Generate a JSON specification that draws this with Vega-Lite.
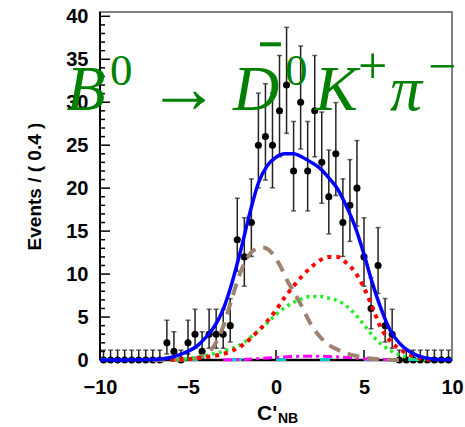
{
  "$schema": "https://vega.github.io/schema/vega-lite/v6.json",
  "width": 352,
  "height": 348,
  "autosize": "none",
  "padding": {"left": 100, "top": 12, "right": 13, "bottom": 67},
  "background": "white",
  "config": {
    "view": {"stroke": "#808080", "strokeWidth": 2},
    "axis": {"grid": false, "domain": false, "ticks": false, "labelFont": "Liberation Sans", "labelFontWeight": "bold", "labelFontSize": 20, "labelColor": "black", "labelFlush": false}
  },
  "datasets": {
    "bins": [
      {"x": -9.8, "n": 0, "lo": 0, "hi": 1.15},
      {"x": -9.4, "n": 0, "lo": 0, "hi": 1.15},
      {"x": -9.0, "n": 0, "lo": 0, "hi": 1.15},
      {"x": -8.6, "n": 0, "lo": 0, "hi": 1.15},
      {"x": -8.2, "n": 0, "lo": 0, "hi": 1.15},
      {"x": -7.8, "n": 0, "lo": 0, "hi": 1.15},
      {"x": -7.4, "n": 0, "lo": 0, "hi": 1.15},
      {"x": -7.0, "n": 0, "lo": 0, "hi": 1.15},
      {"x": -6.6, "n": 0, "lo": 0, "hi": 1.15},
      {"x": -6.2, "n": 2, "lo": 0.71, "hi": 4.63},
      {"x": -5.8, "n": 1, "lo": 0.17, "hi": 3.29},
      {"x": -5.4, "n": 0, "lo": 0, "hi": 1.15},
      {"x": -5.0, "n": 2, "lo": 0.71, "hi": 4.63},
      {"x": -4.6, "n": 3, "lo": 1.37, "hi": 5.91},
      {"x": -4.2, "n": 1, "lo": 0.17, "hi": 3.29},
      {"x": -3.8, "n": 3, "lo": 1.37, "hi": 5.91},
      {"x": -3.4, "n": 3, "lo": 1.37, "hi": 5.91},
      {"x": -3.0, "n": 3, "lo": 1.37, "hi": 5.91},
      {"x": -2.6, "n": 4, "lo": 2.09, "hi": 7.15},
      {"x": -2.2, "n": 14, "lo": 10.31, "hi": 18.83},
      {"x": -1.8, "n": 12, "lo": 8.59, "hi": 16.55},
      {"x": -1.4, "n": 16, "lo": 12.05, "hi": 21.08},
      {"x": -1.0, "n": 25, "lo": 20.04, "hi": 31.06},
      {"x": -0.6, "n": 26, "lo": 20.94, "hi": 32.16},
      {"x": -0.2, "n": 25, "lo": 20.04, "hi": 31.06},
      {"x": 0.2, "n": 29, "lo": 23.65, "hi": 35.44},
      {"x": 0.6, "n": 32, "lo": 26.38, "hi": 38.71},
      {"x": 1.0, "n": 22, "lo": 17.35, "hi": 27.76},
      {"x": 1.4, "n": 30, "lo": 24.56, "hi": 36.54},
      {"x": 1.8, "n": 22, "lo": 17.35, "hi": 27.76},
      {"x": 2.2, "n": 29, "lo": 23.65, "hi": 35.44},
      {"x": 2.6, "n": 23, "lo": 18.24, "hi": 28.86},
      {"x": 3.0, "n": 19, "lo": 14.68, "hi": 24.43},
      {"x": 3.4, "n": 24, "lo": 19.14, "hi": 29.96},
      {"x": 3.8, "n": 16, "lo": 12.05, "hi": 21.08},
      {"x": 4.2, "n": 18, "lo": 13.80, "hi": 23.32},
      {"x": 4.6, "n": 20, "lo": 15.57, "hi": 25.54},
      {"x": 5.0, "n": 12, "lo": 8.59, "hi": 16.55},
      {"x": 5.4, "n": 6, "lo": 3.63, "hi": 9.58},
      {"x": 5.8, "n": 11, "lo": 7.74, "hi": 15.41},
      {"x": 6.2, "n": 4, "lo": 2.09, "hi": 7.15},
      {"x": 6.6, "n": 3, "lo": 1.37, "hi": 5.91},
      {"x": 7.0, "n": 0, "lo": 0, "hi": 1.15},
      {"x": 7.4, "n": 0, "lo": 0, "hi": 1.15},
      {"x": 7.8, "n": 0, "lo": 0, "hi": 1.15},
      {"x": 8.2, "n": 0, "lo": 0, "hi": 1.15},
      {"x": 8.6, "n": 0, "lo": 0, "hi": 1.15},
      {"x": 9.0, "n": 0, "lo": 0, "hi": 1.15},
      {"x": 9.4, "n": 0, "lo": 0, "hi": 1.15},
      {"x": 9.8, "n": 0, "lo": 0, "hi": 1.15}
    ],
    "yminor": [
      {"v": 1}, {"v": 2}, {"v": 3}, {"v": 4}, {"v": 6}, {"v": 7}, {"v": 8}, {"v": 9},
      {"v": 11}, {"v": 12}, {"v": 13}, {"v": 14}, {"v": 16}, {"v": 17}, {"v": 18}, {"v": 19},
      {"v": 21}, {"v": 22}, {"v": 23}, {"v": 24}, {"v": 26}, {"v": 27}, {"v": 28}, {"v": 29},
      {"v": 31}, {"v": 32}, {"v": 33}, {"v": 34}, {"v": 36}, {"v": 37}, {"v": 38}, {"v": 39}
    ],
    "ymajor": [
      {"v": 5}, {"v": 10}, {"v": 15}, {"v": 20}, {"v": 25}, {"v": 30}, {"v": 35}, {"v": 40}
    ],
    "xmajor": [
      {"v": -5}, {"v": 0}, {"v": 5}
    ],
    "total": [
      {"x": -10, "y": 0}, {"x": -9, "y": 0.01}, {"x": -8, "y": 0.02}, {"x": -7, "y": 0.05},
      {"x": -6.5, "y": 0.12}, {"x": -6, "y": 0.3}, {"x": -5.5, "y": 0.6}, {"x": -5, "y": 1.0},
      {"x": -4.5, "y": 1.6}, {"x": -4, "y": 2.6}, {"x": -3.5, "y": 3.9}, {"x": -3, "y": 5.9},
      {"x": -2.5, "y": 9.0}, {"x": -2, "y": 12.8}, {"x": -1.5, "y": 17.0}, {"x": -1, "y": 20.6},
      {"x": -0.5, "y": 22.6}, {"x": 0, "y": 23.6}, {"x": 0.5, "y": 24.0}, {"x": 1, "y": 24.0},
      {"x": 1.5, "y": 23.6}, {"x": 2, "y": 23.0}, {"x": 2.5, "y": 22.3}, {"x": 3, "y": 21.2},
      {"x": 3.5, "y": 19.9}, {"x": 4, "y": 17.9}, {"x": 4.5, "y": 15.5}, {"x": 5, "y": 12.3},
      {"x": 5.5, "y": 8.8}, {"x": 6, "y": 5.8}, {"x": 6.5, "y": 3.4}, {"x": 7, "y": 2.0},
      {"x": 7.5, "y": 1.1}, {"x": 8, "y": 0.55}, {"x": 8.5, "y": 0.25}, {"x": 9, "y": 0.1},
      {"x": 9.5, "y": 0.04}, {"x": 10, "y": 0.02}
    ],
    "brown": [
      {"x": -7, "y": 0}, {"x": -6, "y": 0.01}, {"x": -5, "y": 0.08}, {"x": -4.5, "y": 0.25},
      {"x": -4, "y": 0.65}, {"x": -3.5, "y": 1.7}, {"x": -3, "y": 3.9}, {"x": -2.5, "y": 7.2},
      {"x": -2, "y": 10.3}, {"x": -1.5, "y": 12.3}, {"x": -1, "y": 13.0}, {"x": -0.7, "y": 13.05},
      {"x": -0.3, "y": 12.6}, {"x": 0.2, "y": 11.1}, {"x": 0.7, "y": 9.0}, {"x": 1.0, "y": 8.0},
      {"x": 1.5, "y": 6.1}, {"x": 2.0, "y": 4.1}, {"x": 2.5, "y": 2.7}, {"x": 3.0, "y": 1.75},
      {"x": 3.5, "y": 1.2}, {"x": 4.0, "y": 0.8}, {"x": 4.5, "y": 0.5}, {"x": 5.0, "y": 0.3},
      {"x": 5.5, "y": 0.15}, {"x": 6, "y": 0.06}, {"x": 7, "y": 0.01}
    ],
    "red": [
      {"x": -6, "y": 0.02}, {"x": -5, "y": 0.1}, {"x": -4, "y": 0.35}, {"x": -3, "y": 0.7},
      {"x": -2, "y": 1.6}, {"x": -1, "y": 3.4}, {"x": 0, "y": 5.8}, {"x": 0.5, "y": 7.3},
      {"x": 1, "y": 8.6}, {"x": 1.5, "y": 9.8}, {"x": 2, "y": 10.8}, {"x": 2.5, "y": 11.6},
      {"x": 3, "y": 12.0}, {"x": 3.5, "y": 12.0}, {"x": 4, "y": 11.3}, {"x": 4.5, "y": 10.2},
      {"x": 5, "y": 8.4}, {"x": 5.5, "y": 6.0}, {"x": 6, "y": 3.6}, {"x": 6.5, "y": 2.2},
      {"x": 7, "y": 1.3}, {"x": 7.5, "y": 0.7}, {"x": 8, "y": 0.3}, {"x": 8.5, "y": 0.1},
      {"x": 9, "y": 0.03}
    ],
    "green": [
      {"x": -6, "y": 0.03}, {"x": -5, "y": 0.15}, {"x": -4.5, "y": 0.3}, {"x": -4, "y": 0.5},
      {"x": -3.5, "y": 0.75}, {"x": -3, "y": 1.0}, {"x": -2.5, "y": 1.35}, {"x": -2, "y": 1.8},
      {"x": -1.5, "y": 2.55}, {"x": -1, "y": 3.4}, {"x": -0.5, "y": 4.3}, {"x": 0, "y": 5.3},
      {"x": 0.5, "y": 6.1}, {"x": 1, "y": 6.7}, {"x": 1.5, "y": 7.15}, {"x": 2, "y": 7.4},
      {"x": 2.5, "y": 7.4}, {"x": 3, "y": 7.2}, {"x": 3.5, "y": 6.9}, {"x": 4, "y": 6.3},
      {"x": 4.5, "y": 5.3}, {"x": 5, "y": 4.1}, {"x": 5.5, "y": 2.8}, {"x": 6, "y": 1.8},
      {"x": 6.5, "y": 1.1}, {"x": 7, "y": 0.6}, {"x": 7.5, "y": 0.3}, {"x": 8, "y": 0.12},
      {"x": 8.5, "y": 0.04}
    ],
    "magenta": [
      {"x": -3, "y": 0.02}, {"x": -2, "y": 0.06}, {"x": -1, "y": 0.16}, {"x": 0, "y": 0.3},
      {"x": 1, "y": 0.4}, {"x": 2, "y": 0.45}, {"x": 3, "y": 0.4}, {"x": 4, "y": 0.3},
      {"x": 5, "y": 0.15}, {"x": 6, "y": 0.05}, {"x": 7, "y": 0.01}
    ],
    "cyan": [
      {"x": -10, "y": 0.05}, {"x": 10, "y": 0.05}
    ]
  },
  "layer": [
    {
      "data": {"name": "bins"},
      "mark": {"type": "rule", "color": "#222222", "strokeWidth": 1.5},
      "encoding": {
        "x": {"field": "x", "type": "quantitative", "scale": {"domain": [-10, 10], "nice": false, "zero": false},
              "axis": {"values": [-10, -5, 0, 5, 10], "labelPadding": 17, "labelBaseline": "top", "title": null}},
        "y": {"field": "lo", "type": "quantitative", "scale": {"domain": [0, 40.5], "nice": false, "zero": false},
              "axis": {"values": [0, 5, 10, 15, 20, 25, 30, 35, 40],
                       "labelPadding": 12,
                       "title": "Events / ( 0.4 )", "titleFont": "Liberation Sans", "titleFontWeight": "bold", "titleFontSize": 19, "titleColor": "black",
                       "titleX": -60, "titleY": 174, "titleAlign": "center", "titleBaseline": "alphabetic", "titleAngle": 270}},
        "y2": {"field": "hi"}
      }
    },
    {
      "data": {"name": "bins"},
      "mark": {"type": "tick", "orient": "horizontal", "color": "#222222", "size": 5, "thickness": 1.5},
      "encoding": {"x": {"field": "x", "type": "quantitative"}, "y": {"field": "hi", "type": "quantitative"}}
    },
    {
      "data": {"name": "bins"},
      "mark": {"type": "tick", "orient": "horizontal", "color": "#222222", "size": 5, "thickness": 1.5},
      "encoding": {"x": {"field": "x", "type": "quantitative"}, "y": {"field": "lo", "type": "quantitative"}}
    },
    {
      "data": {"name": "bins"},
      "mark": {"type": "point", "filled": true, "shape": "circle", "size": 50, "color": "black", "opacity": 1},
      "encoding": {"x": {"field": "x", "type": "quantitative"}, "y": {"field": "n", "type": "quantitative"}}
    },
    {
      "data": {"name": "yminor"},
      "mark": {"type": "rule", "color": "black", "strokeWidth": 1.5},
      "encoding": {"x": {"datum": -10}, "x2": {"datum": -9.716}, "y": {"field": "v", "type": "quantitative"}}
    },
    {
      "data": {"name": "ymajor"},
      "mark": {"type": "rule", "color": "black", "strokeWidth": 1.5},
      "encoding": {"x": {"datum": -10}, "x2": {"datum": -9.43}, "y": {"field": "v", "type": "quantitative"}}
    },
    {
      "data": {"name": "xmajor"},
      "mark": {"type": "rule", "color": "black", "strokeWidth": 1.5},
      "encoding": {"x": {"field": "v", "type": "quantitative"}, "y": {"datum": 0}, "y2": {"datum": 1.163}}
    },
    {
      "data": {"values": [{}]},
      "mark": {"type": "rule", "color": "black", "strokeWidth": 2.5},
      "encoding": {"x": {"datum": -10}, "x2": {"datum": 10}, "y": {"datum": 0}}
    },
    {
      "data": {"values": [{}]},
      "mark": {"type": "rule", "color": "black", "strokeWidth": 2},
      "encoding": {"x": {"datum": -10}, "y": {"datum": 0}, "y2": {"datum": 40.5}}
    },
    {
      "data": {"name": "cyan"},
      "mark": {"type": "line", "color": "#00cccc", "strokeWidth": 3, "strokeDash": [10, 34]},
      "encoding": {"x": {"field": "x", "type": "quantitative"}, "y": {"field": "y", "type": "quantitative"}}
    },
    {
      "data": {"name": "magenta"},
      "mark": {"type": "line", "color": "#ff00ff", "strokeWidth": 3, "strokeDash": [9, 4, 3, 4], "interpolate": "monotone"},
      "encoding": {"x": {"field": "x", "type": "quantitative"}, "y": {"field": "y", "type": "quantitative"}}
    },
    {
      "data": {"name": "brown"},
      "mark": {"type": "line", "color": "#9e8270", "strokeWidth": 4, "strokeDash": [12, 8], "interpolate": "monotone"},
      "encoding": {"x": {"field": "x", "type": "quantitative"}, "y": {"field": "y", "type": "quantitative"}}
    },
    {
      "data": {"name": "green"},
      "mark": {"type": "line", "color": "#22ee22", "strokeWidth": 3.5, "strokeDash": [3, 4], "interpolate": "monotone"},
      "encoding": {"x": {"field": "x", "type": "quantitative"}, "y": {"field": "y", "type": "quantitative"}}
    },
    {
      "data": {"name": "red"},
      "mark": {"type": "line", "color": "#ff0000", "strokeWidth": 4, "strokeDash": [4, 5], "interpolate": "monotone"},
      "encoding": {"x": {"field": "x", "type": "quantitative"}, "y": {"field": "y", "type": "quantitative"}}
    },
    {
      "data": {"name": "total"},
      "mark": {"type": "line", "color": "#0000ff", "strokeWidth": 3.5, "interpolate": "monotone"},
      "encoding": {"x": {"field": "x", "type": "quantitative"}, "y": {"field": "y", "type": "quantitative"}}
    },
    {
      "data": {"values": [{}]},
      "mark": {"type": "text", "text": "B", "font": "Liberation Serif", "fontStyle": "italic", "fontSize": 64, "color": "#008000", "align": "left", "baseline": "alphabetic"},
      "encoding": {"x": {"datum": -11.9}, "y": {"datum": 29.07}}
    },
    {
      "data": {"values": [{}]},
      "mark": {"type": "text", "text": "0", "font": "Liberation Serif", "fontSize": 45, "color": "#008000", "align": "left", "baseline": "alphabetic"},
      "encoding": {"x": {"datum": -9.43}, "y": {"datum": 31.98}}
    },
    {
      "data": {"values": [{}]},
      "mark": {"type": "text", "text": "→", "font": "Liberation Serif", "fontSize": 72, "color": "#008000", "align": "center", "baseline": "alphabetic"},
      "encoding": {"x": {"datum": -5.26}, "y": {"datum": 28.9}}
    },
    {
      "data": {"values": [{}]},
      "mark": {"type": "text", "text": "D", "font": "Liberation Serif", "fontStyle": "italic", "fontSize": 64, "color": "#008000", "align": "left", "baseline": "alphabetic"},
      "encoding": {"x": {"datum": -2.44}, "y": {"datum": 29.07}}
    },
    {
      "data": {"values": [{}]},
      "mark": {"type": "rule", "color": "#008000", "strokeWidth": 4},
      "encoding": {"x": {"datum": -0.91}, "x2": {"datum": 0.28}, "y": {"datum": 36.74}}
    },
    {
      "data": {"values": [{}]},
      "mark": {"type": "text", "text": "0", "font": "Liberation Serif", "fontSize": 45, "color": "#008000", "align": "left", "baseline": "alphabetic"},
      "encoding": {"x": {"datum": 0.51}, "y": {"datum": 31.98}}
    },
    {
      "data": {"values": [{}]},
      "mark": {"type": "text", "text": "K", "font": "Liberation Serif", "fontStyle": "italic", "fontSize": 64, "color": "#008000", "align": "left", "baseline": "alphabetic"},
      "encoding": {"x": {"datum": 2.22}, "y": {"datum": 29.07}}
    },
    {
      "data": {"values": [{}]},
      "mark": {"type": "text", "text": "+", "font": "Liberation Serif", "fontSize": 52, "color": "#008000", "align": "left", "baseline": "alphabetic"},
      "encoding": {"x": {"datum": 4.66}, "y": {"datum": 32.2}}
    },
    {
      "data": {"values": [{}]},
      "mark": {"type": "text", "text": "π", "font": "Liberation Serif", "fontStyle": "italic", "fontSize": 64, "color": "#008000", "align": "left", "baseline": "alphabetic"},
      "encoding": {"x": {"datum": 6.48}, "y": {"datum": 29.07}}
    },
    {
      "data": {"values": [{}]},
      "mark": {"type": "text", "text": "−", "font": "Liberation Serif", "fontSize": 50, "color": "#008000", "align": "left", "baseline": "alphabetic"},
      "encoding": {"x": {"datum": 8.64}, "y": {"datum": 32.2}}
    },
    {
      "data": {"values": [{}]},
      "mark": {"type": "text", "text": "C'", "font": "Liberation Sans", "fontWeight": "bold", "fontSize": 21, "color": "black", "align": "left", "baseline": "alphabetic"},
      "encoding": {"x": {"datum": -1.08}, "y": {"datum": -6.98}}
    },
    {
      "data": {"values": [{}]},
      "mark": {"type": "text", "text": "NB", "font": "Liberation Sans", "fontWeight": "bold", "fontSize": 14, "color": "black", "align": "left", "baseline": "alphabetic"},
      "encoding": {"x": {"datum": 0.11}, "y": {"datum": -7.33}}
    }
  ]
}
